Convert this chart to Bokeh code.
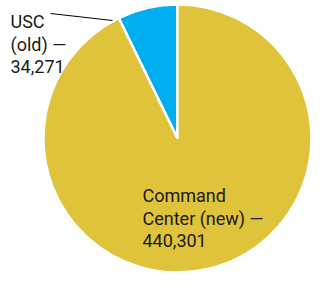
import math
from bokeh.plotting import figure
from bokeh.models import Range1d
from bokeh.core.properties import value
from bokeh.embed import file_html
from bokeh.resources import INLINE

# data
categories = ["USC (old)", "Command Center (new)"]
counts = [34271, 440301]
colors = ["#00AEEF", "#DFC33A"]

W, H = 311, 272
p = figure(width=W, height=H, output_backend="svg", toolbar_location=None,
           x_range=Range1d(0, W), y_range=Range1d(0, H), min_border=0)
p.axis.visible = False
p.grid.visible = False
p.outline_line_color = None
p.background_fill_color = "white"
p.border_fill_color = "white"

cx, cy, r = 177, 134, 134
total = sum(counts)
start = math.pi / 2
starts, ends = [], []
for c in counts:
    a = 2 * math.pi * c / total
    starts.append(start)
    ends.append(start + a)
    start += a

p.wedge(x=[cx] * len(counts), y=[cy] * len(counts), radius=r,
        start_angle=starts, end_angle=ends, fill_color=colors,
        line_color="white", line_width=2.5)

font = value("Roboto")
tc = "#1a1a1a"

# leader line from USC label to the edge of the pie
p.line([50, 112], [259, 252], line_color="black", line_width=1)

def lines(x, ybase, texts):
    for i, t in enumerate(texts):
        p.text(x=[x], y=[ybase - 22.5 * i], text=[t], text_font=font,
               text_font_size="18px", text_color=tc,
               text_baseline="alphabetic", text_align="left")

lines(10, 251, ["USC", "(old) \u2014", f"{counts[0]:,}"])
lines(142, 77, ["Command", "Center (new) \u2014", f"{counts[1]:,}"])

open("out.html", "w").write(file_html(p, INLINE))
